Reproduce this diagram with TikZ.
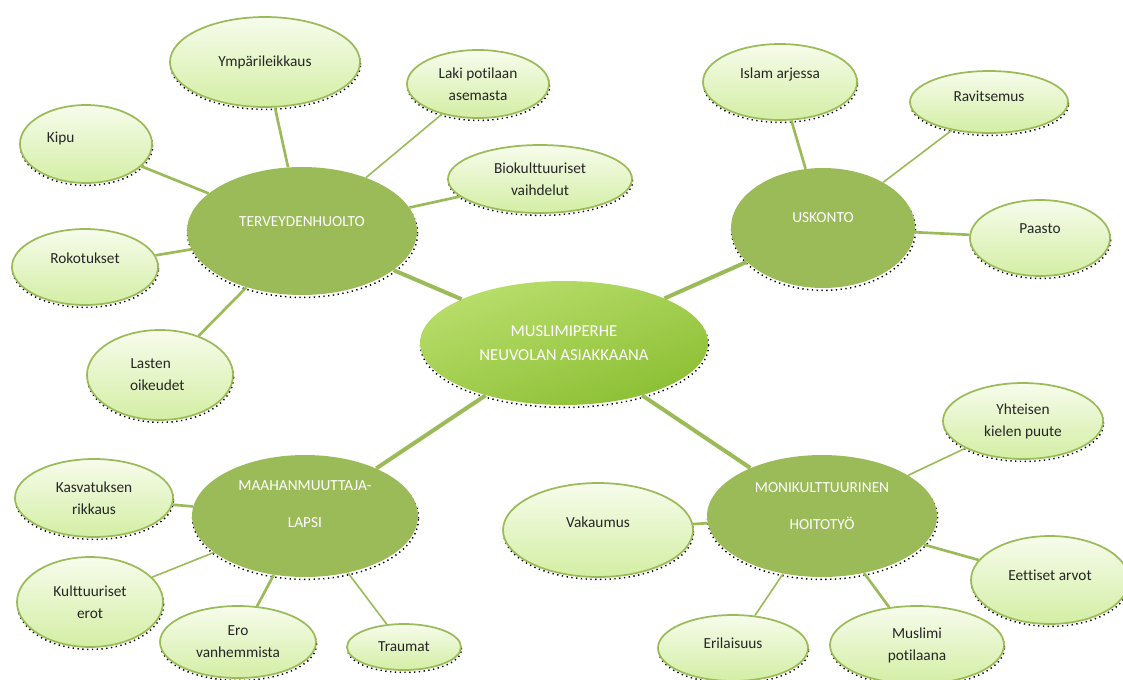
\documentclass[tikz,border=0pt]{standalone}
\usepackage{fontspec}
\setmainfont{Carlito}[RawFeature={-liga;-clig}]
\usetikzlibrary{shapes.geometric,shadows}
\definecolor{dkgreen}{HTML}{9BBB59}
\definecolor{lineg}{HTML}{9BBB59}
\definecolor{ltop}{HTML}{F7FCEC}
\definecolor{lbot}{HTML}{D3EEA4}
\definecolor{ctop}{HTML}{B9DE6C}
\definecolor{cbot}{HTML}{8CBF34}
\definecolor{txt}{HTML}{262626}
\tikzset{
  dotshadow/.style={general shadow={shadow yshift=-1.8pt, shadow xshift=0.4pt, fill=none, draw=black, line width=1.1pt, dash pattern=on 1pt off 2.6pt}},
  leaf/.style={ellipse, draw=lineg, line width=1.3pt, top color=ltop, bottom color=lbot, text=txt, align=center, inner sep=0pt, font=\fontsize{11.5}{16.5}\selectfont, dotshadow},
  hub/.style={ellipse, fill=dkgreen, draw=none, text=white, align=center, inner sep=0pt, font=\fontsize{11.5}{28}\selectfont, dotshadow},
  core/.style={ellipse, draw=none, top color=ctop, bottom color=cbot, shading angle=20, text=white, align=center, inner sep=0pt, font=\fontsize{12.5}{17.5}\selectfont, dotshadow},
  thick link/.style={draw=lineg, line width=3pt},
  link/.style={draw=lineg, line width=2pt},
  thin link/.style={draw=lineg, line width=1.2pt}
}
\begin{document}
\begin{tikzpicture}[x=0.75pt,y=-0.75pt]
\useasboundingbox (0,0) rectangle (1123,679);
% hubs
\node[core, minimum width=288*0.75pt, minimum height=124*0.75pt] (c) at (564,343) {MUSLIMIPERHE\\NEUVOLAN ASIAKKAANA};
\node[hub, minimum width=230*0.75pt, minimum height=128*0.75pt] (t) at (302,231) {TERVEYDENHUOLTO\\[-14.5pt]};
\node[hub, minimum width=184*0.75pt, minimum height=120*0.75pt] (u) at (823,228) {USKONTO\\[-13pt]};
\node[hub, minimum width=226*0.75pt, minimum height=122*0.75pt] (m) at (305,516) {MAAHANMUUTTAJA-\\LAPSI\\[-10pt]};
\node[hub, minimum width=230*0.75pt, minimum height=122*0.75pt] (h) at (822,516) {MONIKULTTUURINEN\\HOITOTYÖ\\[-13pt]};
% leaves terveydenhuolto
\node[leaf, minimum width=190*0.75pt, minimum height=90*0.75pt] (t1) at (265,62) {Ympärileikkaus};
\node[leaf, minimum width=142*0.75pt, minimum height=68*0.75pt] (t2) at (478,84) {Laki potilaan\\asemasta};
\node[leaf, minimum width=132*0.75pt, minimum height=78*0.75pt] (t3) at (86,144) {Kipu\hspace*{38pt}\\[-6pt]};
\node[leaf, minimum width=184*0.75pt, minimum height=68*0.75pt] (t4) at (540,179) {Biokulttuuriset\\vaihdelut};
\node[leaf, minimum width=146*0.75pt, minimum height=76*0.75pt] (t5) at (85,267) {Rokotukset\\[-3pt]};
\node[leaf, minimum width=146*0.75pt, minimum height=90*0.75pt] (t6) at (160,375) {Lasten\hspace*{14pt}\\oikeudet\hspace*{4pt}};
% leaves uskonto
\node[leaf, minimum width=154*0.75pt, minimum height=76*0.75pt] (u1) at (780,82) {Islam arjessa\\[-3pt]};
\node[leaf, minimum width=158*0.75pt, minimum height=62*0.75pt] (u2) at (989,102) {Ravitsemus\\[-7.5pt]};
\node[leaf, minimum width=140*0.75pt, minimum height=76*0.75pt] (u3) at (1040,238) {Paasto\\[-3pt]};
% leaves maahanmuuttaja
\node[leaf, minimum width=158*0.75pt, minimum height=78*0.75pt] (m1) at (94,498) {Kasvatuksen\\rikkaus};
\node[leaf, minimum width=146*0.75pt, minimum height=90*0.75pt] (m2) at (90,602) {Kulttuuriset\\erot};
\node[leaf, minimum width=156*0.75pt, minimum height=72*0.75pt] (m3) at (238,642) {Ero\\vanhemmista};
\node[leaf, minimum width=114*0.75pt, minimum height=46*0.75pt] (m4) at (404,647) {Traumat};
% leaves monikulttuurinen
\node[leaf, minimum width=160*0.75pt, minimum height=76*0.75pt] (h1) at (1023,421) {Yhteisen\\kielen puute};
\node[leaf, minimum width=190*0.75pt, minimum height=94*0.75pt] (h2) at (598,530) {Vakaumus\\[-4.5pt]};
\node[leaf, minimum width=158*0.75pt, minimum height=88*0.75pt] (h3) at (1050,580) {Eettiset arvot\\[-9pt]};
\node[leaf, minimum width=150*0.75pt, minimum height=66*0.75pt] (h4) at (733,648) {Erilaisuus\\[-9pt]};
\node[leaf, minimum width=174*0.75pt, minimum height=78*0.75pt] (h5) at (917,645) {Muslimi\\potilaana};
% connectors
\draw[thick link] (c) -- (t);
\draw[thick link] (c) -- (u);
\draw[thick link] (c) -- (m);
\draw[thick link] (c) -- (h);
\draw[link] (t) -- (t1);
\draw[thin link] (t) -- (t2);
\draw[link] (t) -- (t3);
\draw[link] (t) -- (t4);
\draw[link] (t) -- (t5);
\draw[link] (t) -- (t6);
\draw[link] (u) -- (u1);
\draw[thin link] (u) -- (u2);
\draw[link] (u) -- (u3);
\draw[link] (m) -- (m1);
\draw[thin link] (m) -- (m2);
\draw[link] (m) -- (m3);
\draw[thin link] (m) -- (m4);
\draw[thin link] (h) -- (h1);
\draw[link] (h) -- (h2);
\draw[link] (h) -- (h3);
\draw[thin link] (h) -- (h4);
\draw[link] (h) -- (h5);
\end{tikzpicture}
\end{document}
